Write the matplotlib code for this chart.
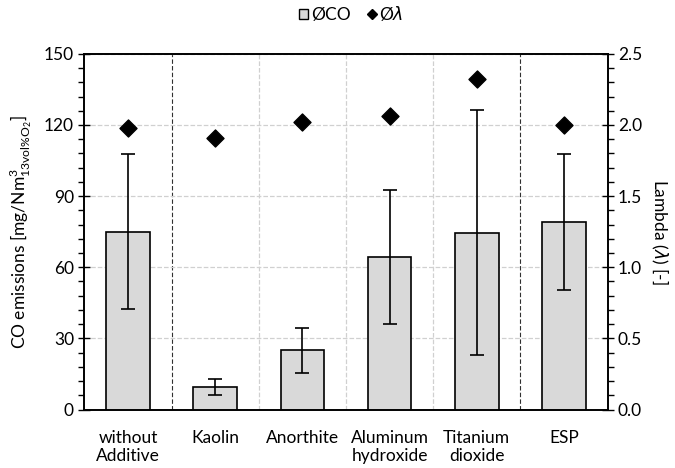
import numpy as np
import matplotlib.pyplot as plt
from matplotlib.ticker import MultipleLocator
from matplotlib.lines import Line2D
from matplotlib.patches import Patch

plt.rcParams['font.family'] = ['Lato', 'DejaVu Sans']
plt.rcParams['mathtext.fontset'] = 'dejavusans'

categories = ['without\nAdditive', 'Kaolin', 'Anorthite', 'Aluminum\nhydroxide', 'Titanium\ndioxide', 'ESP']
co_mean = [74.9, 9.4, 24.9, 64.2, 74.6, 79.1]
co_err = [32.7, 3.3, 9.6, 28.3, 51.5, 28.8]
lam_mean = [1.98, 1.91, 2.02, 2.06, 2.32, 2.00]

x = np.arange(len(categories))

fig, ax = plt.subplots(figsize=(6.75, 4.68), dpi=100)
fig.subplots_adjust(left=0.125, right=0.9, top=0.885, bottom=0.125)

ax.bar(x, co_mean, width=0.5, color='#d9d9d9', edgecolor='black', linewidth=1.2, zorder=3)
ax.errorbar(x, co_mean, yerr=co_err, fmt='none', ecolor='black', elinewidth=1.2,
            capsize=5, capthick=1.2, zorder=4)

ax.set_xlim(-0.5, len(categories) - 0.5)
ax.set_ylim(0, 150)
ax.yaxis.set_major_locator(MultipleLocator(30))
ax.yaxis.set_minor_locator(MultipleLocator(6))
ax.grid(axis='y', which='major', color='#d0d0d0', linestyle='--', linewidth=0.9, zorder=0)

# category separators
for i, b in enumerate(x[:-1] + 0.5):
    if i in (0, 4):
        ax.axvline(b, color='#303030', linestyle=(0, (4, 2)), linewidth=0.8, zorder=1)
    else:
        ax.axvline(b, color='#d0d0d0', linestyle='--', linewidth=0.9, zorder=1)

ax.set_xticks(x)
ax.set_xticklabels(categories, fontsize=12.5, linespacing=1.1)
ax.tick_params(axis='x', length=0, pad=15)
ax.tick_params(axis='y', which='major', direction='inout', length=8, labelsize=12.5, width=1)
ax.tick_params(axis='y', which='minor', direction='out', length=4, width=1)
ax.set_ylabel(r'CO emissions [mg/Nm$^{\mathregular{3}}_{\mathregular{13vol\%O_2}}$]',
              fontsize=12.5, labelpad=7)
for s in ax.spines.values():
    s.set_linewidth(1.2)

ax2 = ax.twinx()
ax2.scatter(x, lam_mean, marker='D', s=75, color='black', zorder=5)
ax2.set_ylim(0, 2.5)
ax2.yaxis.set_major_locator(MultipleLocator(0.5))
ax2.yaxis.set_minor_locator(MultipleLocator(0.1))
ax2.yaxis.set_major_formatter(plt.FormatStrFormatter('%.1f'))
ax2.tick_params(axis='y', which='major', direction='inout', length=8, labelsize=12.5, width=1)
ax2.tick_params(axis='y', which='minor', direction='out', length=4, width=1)
ax2.set_ylabel(r'Lambda ($\lambda$) [-]', rotation=270, labelpad=20, fontsize=12.5)
for s in ax2.spines.values():
    s.set_linewidth(1.2)

handles = [Patch(facecolor='#d9d9d9', edgecolor='black', linewidth=1),
           Line2D([], [], marker='D', color='black', linestyle='none', markersize=5.5)]
fig.legend(handles, ['ØCO', r'Ø$\lambda$'], loc='upper center', bbox_to_anchor=(0.52, 1.025),
           ncol=2, frameon=False, fontsize=12.5, handlelength=0.55, handleheight=0.55,
           handletextpad=0.15, columnspacing=0.95)

fig.savefig('out.png', dpi=100)
